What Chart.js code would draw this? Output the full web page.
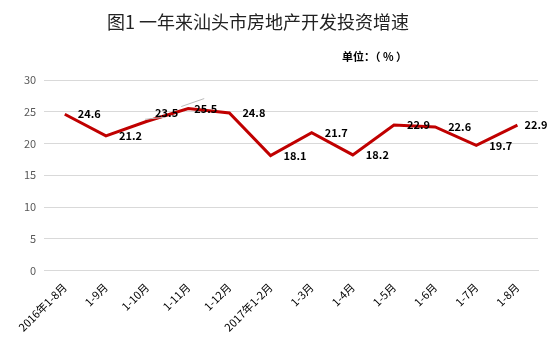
<!DOCTYPE html>
<html>
<head>
<meta charset="utf-8">
<script src="https://cdn.jsdelivr.net/npm/chart.js@4"></script>
<style>
  body { margin: 0; background: #fff; }
  #wrap { position: relative; width: 554px; height: 346px; }
  #title {
    position: absolute; left: 0; width: 516px; top: 8px; text-align: center;
    font-family: "Noto Sans CJK SC", sans-serif; font-size: 18px; color: #222;
  }
  #unit {
    position: absolute; left: 342px; top: 48px;
    font-family: "Noto Sans CJK SC", sans-serif; font-size: 11px; font-weight: bold; color: #000;
  }
</style>
</head>
<body>
<div id="wrap">
  <canvas id="growth" width="554" height="346"></canvas>
  <div id="title">图1 一年来汕头市房地产开发投资增速</div>
  <div id="unit">单位：（ % ）</div>
</div>
<script>
var months = ["2016年1-8月", "1-9月", "1-10月", "1-11月", "1-12月", "2017年1-2月",
  "1-3月", "1-4月", "1-5月", "1-6月", "1-7月", "1-8月"];
var growth = [24.6, 21.2, 23.5, 25.5, 24.8, 18.1, 21.7, 18.2, 22.9, 22.6, 19.7, 22.9];
var yTicks = [0, 5, 10, 15, 20, 25, 30];

// labels sit to the right of each point, two of them nudged up like the original
var valueLabels = {
  id: "valueLabels",
  afterDatasetsDraw: function(chart) {
    var ctx = chart.ctx;
    var meta = chart.getDatasetMeta(0);
    ctx.save();
    ctx.font = "bold 11px 'Noto Sans CJK SC', sans-serif";
    ctx.fillStyle = "#000";
    ctx.textBaseline = "middle";
    ctx.textAlign = "left";
    meta.data.forEach(function(pt, i) {
      var dx = 13, dy = 0;
      if (i == 2) { dx = 8; dy = -8; }
      if (i == 3) { dx = 6; dy = 0; }
      if (i == 11) { dx = 7; }
      if (i == 2 || i == 3) {
        ctx.strokeStyle = "#bbb";
        ctx.lineWidth = 1;
        ctx.beginPath();
        if (i == 2) { ctx.moveTo(pt.x + 18, pt.y - 4); ctx.lineTo(pt.x - 2, pt.y - 2); }
        else { ctx.moveTo(pt.x - 7, pt.y - 2); ctx.lineTo(pt.x + 16, pt.y - 10); }
        ctx.stroke();
      }
      ctx.fillText(growth[i].toFixed(1), pt.x + dx, pt.y + dy);
    });
    ctx.restore();
  }
};

var ctx = document.getElementById("growth").getContext("2d");
var chart = new Chart(ctx, {
  type: "line",
  data: {
    labels: months,
    datasets: [{
      data: growth,
      borderColor: "#C00000",
      borderWidth: 3,
      pointRadius: 0,
      tension: 0,
      fill: false
    }]
  },
  options: {
    responsive: false,
    animation: false,
    layout: { padding: { top: 80, left: 16, right: 16, bottom: 10 } },
    plugins: { legend: { display: false }, tooltip: { enabled: false } },
    scales: {
      x: {
        offset: true,
        grid: { display: false },
        border: { color: "#d9d9d9" },
        ticks: {
          minRotation: 45, maxRotation: 45, autoSkip: false,
          padding: 2,
          color: "#000",
          font: { family: "'Noto Sans CJK SC', sans-serif", size: 11 }
        }
      },
      y: {
        min: 0, max: 30,
        afterBuildTicks: function(axis) {
          axis.ticks = yTicks.map(function(v) { return { value: v }; });
        },
        grid: { color: "#d9d9d9", drawTicks: false },
        border: { display: false },
        ticks: {
          padding: 8,
          color: "#595959",
          font: { family: "'Noto Sans CJK SC', sans-serif", size: 11 }
        }
      }
    }
  },
  plugins: [valueLabels]
});
</script>
</body>
</html>
